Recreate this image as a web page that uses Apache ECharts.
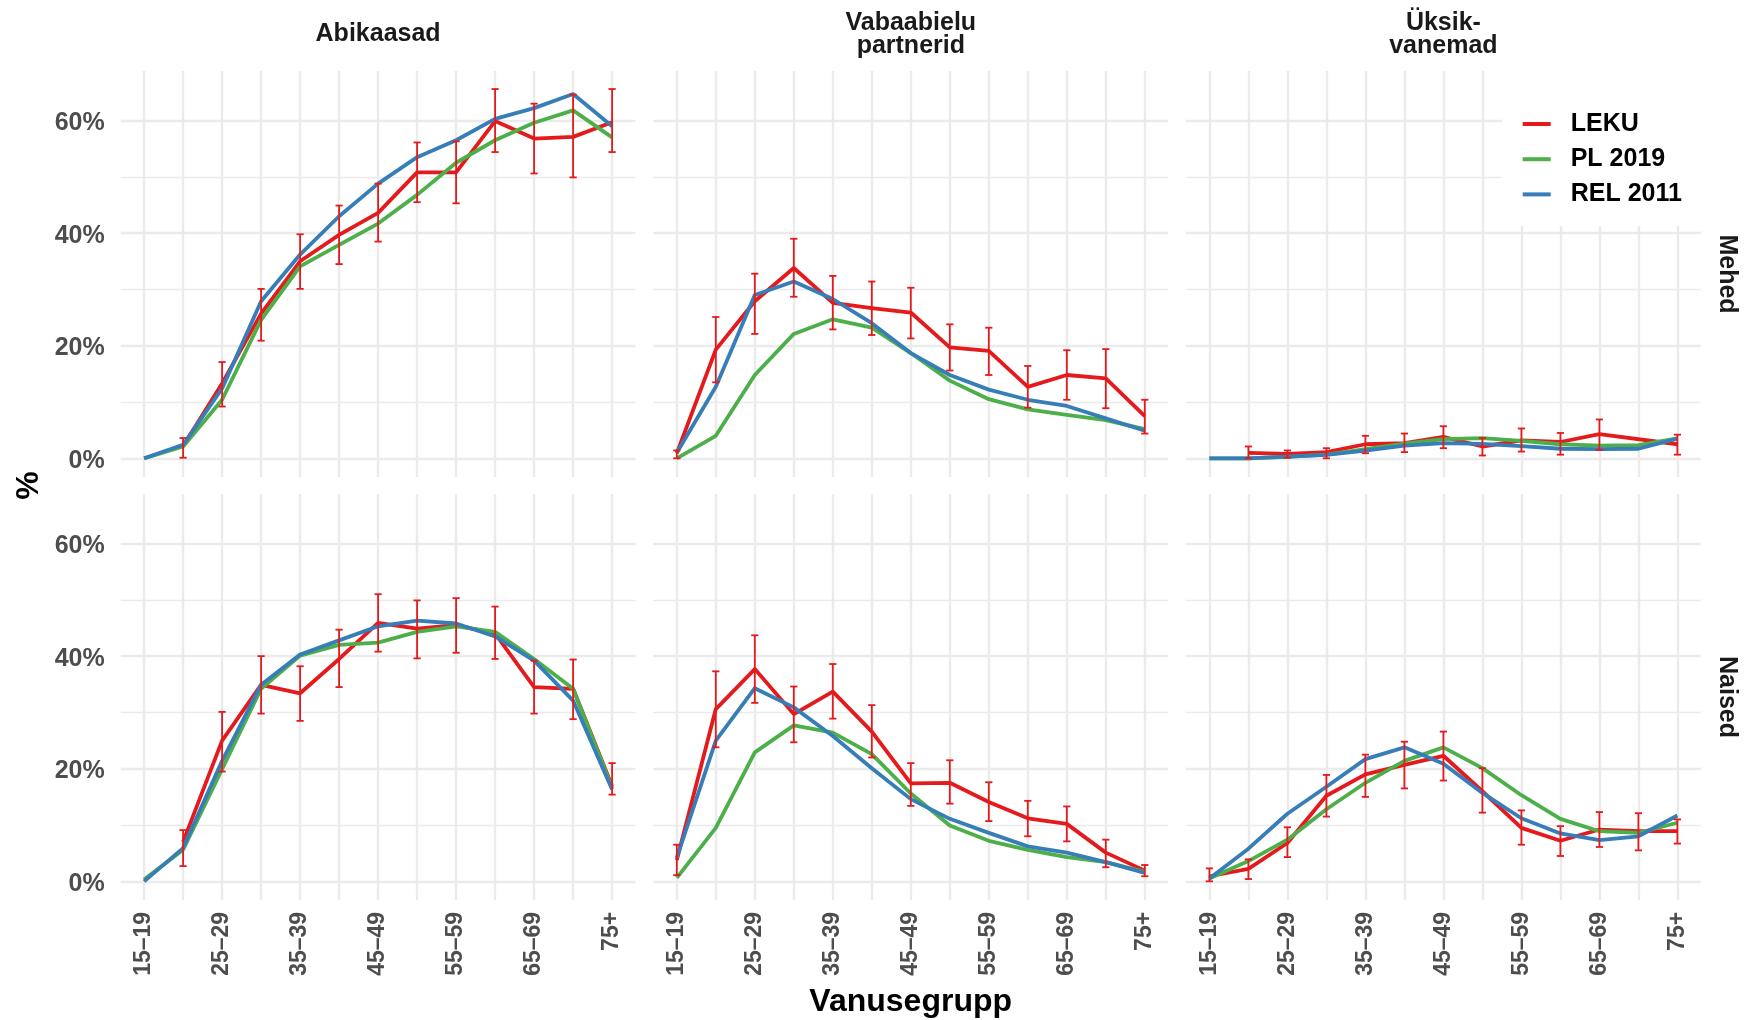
<!DOCTYPE html>
<html>
<head>
<meta charset="utf-8">
<title>Vanusegrupp</title>
<script src="https://cdn.jsdelivr.net/npm/echarts@6.0.0/dist/echarts.min.js"></script>
<style>
  html, body { margin: 0; padding: 0; background: #fff; }
  #chart { width: 1744px; height: 1020px; }
</style>
</head>
<body>
<div id="chart"></div>
<script>
// vanuserühmad (x-telg)
var ageGroups = ["15–19", "20–24", "25–29", "30–34", "35–39", "40–44", "45–49",
                 "50–54", "55–59", "60–64", "65–69", "70–74", "75+"];
var seriesNames = ["LEKU", "PL 2019", "REL 2011"];
var yTicks = [0, 20, 40, 60];
var yMinorTicks = [10, 30, 50];

// Abikaasad, mehed
var lekuAbiM   = [null, 2.2, 13.3, 25.7, 35.0, 39.7, 43.6, 50.8, 50.8, 59.9, 56.8, 57.1, 59.7];
var lekuAbiMLo = [null, 0.1, 9.2, 20.9, 30.1, 34.5, 38.5, 45.5, 45.3, 54.4, 50.6, 49.9, 54.4];
var lekuAbiMHi = [null, 3.6, 17.1, 30.1, 39.8, 44.9, 48.8, 56.1, 56.3, 65.6, 63.0, 64.6, 65.6];
var plAbiM     = [0, 2.1, 10.4, 24.6, 34.1, 37.9, 41.7, 46.8, 52.5, 56.5, 59.6, 61.8, 57.0];
var relAbiM    = [0, 2.4, 12.4, 27.9, 36.2, 43.0, 48.8, 53.5, 56.5, 60.3, 62.2, 64.7, 59.0];

// Vabaabielu partnerid, mehed
var lekuVabM   = [0.9, 19.3, 27.9, 33.8, 27.6, 26.7, 25.9, 19.7, 19.1, 12.7, 14.8, 14.2, 7.5];
var lekuVabMLo = [0.0, 13.5, 22.1, 28.7, 22.9, 21.9, 21.3, 15.6, 14.8, 9.0, 10.4, 8.9, 4.4];
var lekuVabMHi = [1.4, 25.1, 32.8, 39.0, 32.4, 31.4, 30.3, 23.8, 23.2, 16.4, 19.2, 19.4, 10.4];
var plVabM     = [0, 4.0, 14.8, 22.1, 24.7, 23.2, 18.7, 13.8, 10.5, 8.7, 7.7, 6.8, 5.2];
var relVabM    = [1.0, 12.7, 29.0, 31.4, 28.3, 24.0, 18.7, 14.8, 12.2, 10.4, 9.3, 7.1, 4.9];

// Üksikvanemad, mehed
var lekuUksM   = [null, 0.95, 0.8, 1.1, 2.5, 2.7, 3.8, 2.1, 3.2, 2.9, 4.3, null, 2.5];
var lekuUksMLo = [null, 0.0, 0.1, 0.0, 0.9, 1.1, 1.8, 0.5, 1.2, 0.65, 1.5, null, 0.65];
var lekuUksMHi = [null, 2.1, 1.4, 1.8, 4.0, 4.4, 5.7, 3.6, 5.3, 4.5, 6.9, null, 4.2];
var plUksM     = [0, 0, 0.25, 0.65, 1.65, 2.6, 3.4, 3.6, 3.1, 2.5, 2.25, 2.35, 3.55];
var relUksM    = [0, 0, 0.3, 0.6, 1.35, 2.25, 2.7, 2.55, 2.15, 1.7, 1.65, 1.7, 3.5];

// Abikaasad, naised
var lekuAbiN   = [null, 7.0, 25.0, 34.9, 33.4, 39.5, 45.9, 44.9, 45.5, 44.0, 34.5, 34.2, 16.9];
var lekuAbiNLo = [null, 2.7, 19.5, 29.8, 28.5, 34.5, 40.8, 39.6, 40.6, 39.5, 29.8, 28.8, 15.4];
var lekuAbiNHi = [null, 9.1, 30.1, 40.0, 38.2, 44.7, 51.0, 49.9, 50.3, 48.8, 39.2, 39.4, 21.0];
var plAbiN     = [0.3, 5.6, 19.9, 34.2, 40.1, 42.0, 42.4, 44.3, 45.3, 44.3, 39.5, 34.2, 16.6];
var relAbiN    = [0, 5.9, 21.4, 34.9, 40.3, 42.8, 45.3, 46.3, 45.8, 43.5, 39.2, 32.1, 16.3];

// Vabaabielu partnerid, naised
var lekuVabN   = [3.8, 30.6, 37.7, 29.7, 33.7, 26.6, 17.4, 17.5, 14.1, 11.2, 10.2, 5.1, 1.9];
var lekuVabNLo = [1.1, 23.8, 31.7, 24.7, 28.9, 22.0, 13.4, 13.8, 10.7, 8.0, 7.1, 2.5, 0.9];
var lekuVabNHi = [6.5, 37.3, 43.7, 34.6, 38.6, 31.3, 21.0, 21.5, 17.6, 14.3, 13.3, 7.4, 2.9];
var plVabN     = [0.6, 9.5, 22.9, 27.7, 26.4, 22.6, 15.6, 9.9, 7.2, 5.6, 4.3, 3.4, 1.7];
var relVabN    = [4.2, 25.0, 34.3, 30.9, 25.8, 20.1, 14.6, 11.1, 8.6, 6.2, 5.1, 3.4, 1.5];

// Üksikvanemad, naised
var lekuUksN   = [0.9, 2.2, 6.8, 15.2, 19.0, 20.7, 22.3, 16.0, 9.5, 7.2, 9.2, 8.9, 8.9];
var lekuUksNLo = [0.0, 0.4, 4.3, 11.5, 15.0, 16.5, 17.9, 12.2, 6.5, 4.5, 6.1, 5.5, 6.7];
var lekuUksNHi = [2.3, 3.9, 9.6, 18.9, 22.5, 24.8, 26.6, 20.1, 12.6, 9.8, 12.3, 12.1, 11.0];
var plUksN     = [0.5, 3.6, 7.4, 12.8, 17.5, 21.4, 23.8, 20.1, 15.3, 11.1, 8.9, 8.6, 10.4];
var relUksN    = [0.5, 5.8, 12.0, 16.8, 21.7, 23.8, 20.9, 15.7, 11.2, 8.5, 7.3, 8.0, 11.7];

// paneelid: rida 0 = Mehed, rida 1 = Naised
var panels = [
    { row: 0, col: 0, leku: lekuAbiM, lo: lekuAbiMLo, hi: lekuAbiMHi, pl: plAbiM, rel: relAbiM },
    { row: 0, col: 1, leku: lekuVabM, lo: lekuVabMLo, hi: lekuVabMHi, pl: plVabM, rel: relVabM },
    { row: 0, col: 2, leku: lekuUksM, lo: lekuUksMLo, hi: lekuUksMHi, pl: plUksM, rel: relUksM },
    { row: 1, col: 0, leku: lekuAbiN, lo: lekuAbiNLo, hi: lekuAbiNHi, pl: plAbiN, rel: relAbiN },
    { row: 1, col: 1, leku: lekuVabN, lo: lekuVabNLo, hi: lekuVabNHi, pl: plVabN, rel: relVabN },
    { row: 1, col: 2, leku: lekuUksN, lo: lekuUksNLo, hi: lekuUksNHi, pl: plUksN, rel: relUksN }
];

var FONT = "'Liberation Sans', Arial, sans-serif";
var RED = "#E41A1C", GREEN = "#4DAF4A", BLUE = "#377EB8";
var GRID_COLOR = "#EBEBEB";
var colLeft = [120.7, 653.4, 1186];
var rowTop = [71, 494];
var panelW = 514.8, panelH = 405.9;

var allTicks = ageGroups.map(function (d, i) { return i; });
var labelTicks = allTicks.filter(function (i) { return i % 2 === 0; });

function toPoints(arr) {
    var out = [];
    arr.forEach(function (v, i) { if (v !== null) out.push([i, v]); });
    return out;
}

function toBars(lo, hi) {
    var out = [];
    lo.forEach(function (v, i) { if (v !== null && hi[i] !== null) out.push([i, v, hi[i]]); });
    return out;
}

//veapiirid
function renderErr(params, api) {
    var x = api.value(0);
    var p1 = api.coord([x, api.value(1)]);
    var p2 = api.coord([x, api.value(2)]);
    var w = 3.6;
    var style = { stroke: RED, lineWidth: 1.8 };
    return {
        type: "group",
        children: [
            { type: "line", shape: { x1: p1[0], y1: p1[1], x2: p2[0], y2: p2[1] }, style: style },
            { type: "line", shape: { x1: p1[0] - w, y1: p1[1], x2: p1[0] + w, y2: p1[1] }, style: style },
            { type: "line", shape: { x1: p2[0] - w, y1: p2[1], x2: p2[0] + w, y2: p2[1] }, style: style }
        ]
    };
}

var grids = [], xAxes = [], yAxes = [], series = [];

panels.forEach(function (p, i) {
    grids.push({
        left: colLeft[p.col], top: rowTop[p.row], width: panelW, height: panelH,
        containLabel: false, outerBoundsMode: "none"
    });
    xAxes.push({
        gridIndex: i, type: "value", min: -0.6, max: 12.6,
        axisLine: { show: false },
        axisTick: { show: false, customValues: allTicks },
        splitLine: { show: true, lineStyle: { color: GRID_COLOR, width: 2.4 } },
        axisLabel: {
            show: p.row === 1, customValues: labelTicks, rotate: 90, margin: 12,
            formatter: function (v) { return ageGroups[v]; },
            fontSize: 23, fontWeight: "bold", color: "#4D4D4D", fontFamily: FONT
        }
    });
    // põhijooned + sildid
    yAxes.push({
        gridIndex: i, type: "value", min: -3.3, max: 68.8, position: "left",
        axisLine: { show: false },
        axisTick: { show: false, customValues: yTicks },
        splitLine: { show: true, lineStyle: { color: GRID_COLOR, width: 2.4 } },
        axisLabel: {
            show: p.col === 0, customValues: yTicks, margin: 16,
            formatter: function (v) { return "{p|" + v + "%}"; },
            rich: { p: { padding: [5, 0, 0, 0], fontSize: 25, fontWeight: "bold", color: "#4D4D4D", fontFamily: FONT } },
            fontSize: 25, fontWeight: "bold", color: "#4D4D4D", fontFamily: FONT
        }
    });
    // abijooned
    yAxes.push({
        gridIndex: i, type: "value", min: -3.3, max: 68.8, position: "right",
        axisLine: { show: false },
        axisTick: { show: false, customValues: yMinorTicks },
        splitLine: { show: true, lineStyle: { color: GRID_COLOR, width: 1.3 } },
        axisLabel: { show: false }
    });

    var lines = [[p.leku, RED], [p.pl, GREEN], [p.rel, BLUE]];
    lines.forEach(function (l, k) {
        series.push({
            name: seriesNames[k], type: "line",
            xAxisIndex: i, yAxisIndex: 2 * i,
            data: toPoints(l[0]),
            showSymbol: false, symbol: "none",
            lineStyle: { color: l[1], width: 3.8, join: "round" },
            itemStyle: { color: l[1] },
            z: 2 + k * 0.1, silent: true
        });
    });
    series.push({
        type: "custom", xAxisIndex: i, yAxisIndex: 2 * i,
        data: toBars(p.lo, p.hi),
        encode: { x: 0, y: [1, 2] },
        renderItem: renderErr, z: 3, silent: true
    });
});

// paneelide pealkirjad ja telgede nimed
var stripStyle = { fill: "#1A1A1A", fontSize: 25, fontWeight: "bold", fontFamily: FONT, align: "center", verticalAlign: "middle", lineHeight: 23 };
function textEl(x, y, text, style, rot) {
    return {
        type: "text", x: x, y: y, rotation: rot || 0, z: 10,
        style: Object.assign({ text: text }, style)
    };
}
var graphics = [
    // legendi valge taust
    { type: "rect", shape: { x: 1502, y: 71, width: 199, height: 155 }, style: { fill: "#fff" }, z: 1 },
    textEl(378.1, 34.5, "Abikaasad", stripStyle),
    textEl(910.8, 35, "Vabaabielu\npartnerid", stripStyle),
    textEl(1443.4, 35, "Üksik-\nvanemad", stripStyle),
    textEl(1726.7, 274, "Mehed", stripStyle, -Math.PI / 2),
    textEl(1726.7, 697, "Naised", stripStyle, -Math.PI / 2),
    textEl(910.7, 1002, "Vanusegrupp", { fill: "#000", fontSize: 32, fontWeight: "bold", fontFamily: FONT, align: "center", verticalAlign: "middle" }),
    textEl(29, 485.5, "%", { fill: "#000", fontSize: 32, fontWeight: "bold", fontFamily: FONT, align: "center", verticalAlign: "middle" }, Math.PI / 2)
];

var chart = echarts.init(document.getElementById("chart"));
chart.setOption({
    animation: false,
    backgroundColor: "#fff",
    grid: grids,
    xAxis: xAxes,
    yAxis: yAxes,
    legend: {
        data: seriesNames, orient: "vertical", left: 1522.7, top: 111.5, padding: 0,
        icon: "rect", itemWidth: 28, itemHeight: 4, itemGap: 10.2,
        selectedMode: false, z: 12,
        textStyle: { fontSize: 25, fontWeight: "bold", color: "#000", fontFamily: FONT, lineHeight: 25, padding: [0, 0, 0, 15] }
    },
    graphic: graphics,
    series: series
});
</script>
</body>
</html>
